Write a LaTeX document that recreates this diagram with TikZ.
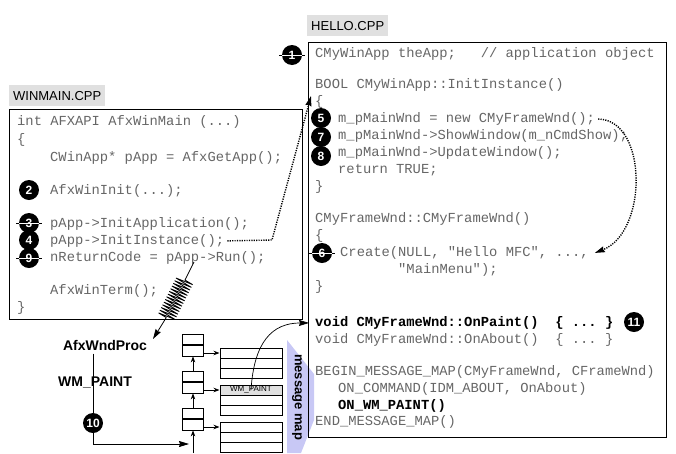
\documentclass[tikz,border=0pt]{standalone}
\usepackage{fontspec}
\setmainfont{Liberation Sans}
\setmonofont{Liberation Mono}
\usetikzlibrary{arrows.meta,decorations.pathmorphing,calc}
\definecolor{lblgray}{gray}{0.88}
\definecolor{mapblue}{RGB}{200,200,245}

\begin{document}
\begin{tikzpicture}[x=1pt, y=-1pt, >={Stealth[length=10pt,width=6pt,inset=1pt]},
    code/.style={anchor=base west, inner sep=0pt, text=black!60, font=\ttfamily\fontsize{13.8}{14}\selectfont},
    boldcode/.style={code, text=black, font=\ttfamily\bfseries\fontsize{13.8}{14}\selectfont},
    num/.style={circle, fill=black, text=white, inner sep=0pt, minimum size=20pt, font=\bfseries\fontsize{12}{12}\selectfont},
    struck/.style={path picture={\draw[white, line width=0.5pt] (path picture bounding box.west) -- (path picture bounding box.east);},
        append after command={(\tikzlastnode.west) edge[line width=0.8pt] +(-3,0) (\tikzlastnode.east) edge[line width=0.8pt] +(3,0)}},
    filelbl/.style={fill=lblgray, anchor=north west, inner sep=0pt, font=\fontsize{13}{13}\selectfont},
    codebox/.style={draw, line width=0.8pt, anchor=north west, inner sep=0pt},
    proc/.style={font=\bfseries\fontsize{14}{14}\selectfont},
    qbox/.style={draw, line width=0.8pt, minimum width=21pt, minimum height=22pt, inner sep=0pt},
    maprow/.style={draw, line width=1pt, minimum width=62pt, minimum height=10pt, inner sep=0pt},
    qarrow/.style={-{Stealth[length=6pt,width=4.5pt]}, line width=0.8pt},
    calls/.style={->, line width=1.4pt, dash pattern=on 1.2pt off 1.2pt},
]
\useasboundingbox (0,0) rectangle (676,453);

% WINMAIN.CPP
\node[filelbl, minimum width=96pt, minimum height=21pt] (winlbl) at (9,85) {WINMAIN.CPP};
\node[codebox, minimum width=293pt, minimum height=210pt] (winbox) at (9,109) {};
\node[code] (l1) at (17,125.5) {int AFXAPI AfxWinMain (...)};
\node[code] (l2) at (17,143.5) {\{};
\node[code] (l3) at (50,161.5) {CWinApp* pApp = AfxGetApp();};
\node[code] (l4) at (50,194.5) {AfxWinInit(...);};
\node[code] (l5) at (50,227.5) {pApp->InitApplication();};
\node[code] (l6) at (50,244.5) {pApp->InitInstance();};
\node[code] (l7) at (50,261.5) {nReturnCode = pApp->Run();};
\node[code] (l8) at (50,294.5) {AfxWinTerm();};
\node[code] (l9) at (17,311.5) {\}};
\node[num] (n2) at (29,190) {2};
\node[num, struck] (n3) at (29,223) {3};
\node[num] (n4) at (29,240) {4};
\node[num, struck] (n9) at (29,258) {9};

% message map band
\fill[mapblue] (287,340) -- (314,374) -- (314,420) -- (301,453) -- (287,453) -- cycle;
\node[rotate=-90, font=\bfseries\fontsize{13}{13}\selectfont] (maplbl) at (297,397) {message map};

% HELLO.CPP
\node[filelbl, minimum width=81pt, minimum height=21pt] (hellolbl) at (307,15) {HELLO.CPP};
\node[codebox, minimum width=358pt, minimum height=395pt] (hellobox) at (308,42) {};
\node[code] (r1) at (315,57.5) {CMyWinApp theApp;\ \ \ // application object};
\node[code] (r2) at (315,88.5) {BOOL CMyWinApp::InitInstance()};
\node[code] (r3) at (315,105.5) {\{};
\node[code] (r4) at (338,122.5) {m\_pMainWnd = new CMyFrameWnd();};
\node[code] (r5) at (338,139.5) {m\_pMainWnd->ShowWindow(m\_nCmdShow);};
\node[code] (r6) at (338,156.5) {m\_pMainWnd->UpdateWindow();};
\node[code] (r7) at (338,173.5) {return TRUE;};
\node[code] (r8) at (315,190.5) {\}};
\node[code] (r9) at (315,222.5) {CMyFrameWnd::CMyFrameWnd()};
\node[code] (r10) at (315,239.5) {\{};
\node[code] (r11) at (340,256.5) {Create(NULL, "Hello MFC", ...,};
\node[code] (r12) at (398,273.5) {"MainMenu");};
\node[code] (r13) at (315,290.5) {\}};
\node[boldcode] (r14) at (315,326.5) {void CMyFrameWnd::OnPaint()\ \ \{ ... \}};
\node[code] (r15) at (315,343.5) {void CMyFrameWnd::OnAbout()\ \ \{ ... \}};
\node[code] (r16) at (315,375.5) {BEGIN\_MESSAGE\_MAP(CMyFrameWnd, CFrameWnd)};
\node[code] (r17) at (338,392.5) {ON\_COMMAND(IDM\_ABOUT, OnAbout)};
\node[boldcode] (r18) at (338,409.5) {ON\_WM\_PAINT()};
\node[code] (r19) at (315,425.5) {END\_MESSAGE\_MAP()};
\node[num, struck] (n1) at (292,55) {1};
\node[num] (n5) at (321,118) {5};
\node[num] (n7) at (321,137) {7};
\node[num] (n8) at (321,156) {8};
\node[num, struck] (n6) at (322,253) {6};
\node[num] (n11) at (634,322) {11};

% calls
\coordinate (dk) at (272,240);
\coordinate (initin) at (311,96);
\draw[calls, shorten <=3pt] (l6.east) -- (dk) -- (initin);
\draw[calls, shorten <=3pt] (r4.east) .. controls (648,120) and (648,232) .. ([xshift=6pt]r11.east);

% AfxWndProc and the message queue
\node[proc] (wndproc) at (105,345) {AfxWndProc};
\node[proc] (wmpaint) at (95,383) {WM\_PAINT};
\coordinate (runpp) at (194,262);
\coordinate (coil1) at (185,280);
\coordinate (coil2) at (166,318);
\coordinate (procin) at (153,339);
\draw[->, line width=0.8pt] (runpp) -- (coil1) decorate[decoration={zigzag, amplitude=9pt, segment length=3pt}] {-- (coil2)} -- (procin);
\coordinate (bend) at (93,444);
\coordinate (qhit) at (189,444);
\draw[->, line width=0.8pt] (wndproc.south -| bend) -- (bend) -- (qhit);
\node[num] (n10) at (93,423) {10};

\node[qbox] (q1) at (193,345) {};
\node[qbox] (q2) at (193,382) {};
\node[qbox] (q3) at (193,419) {};
\draw[line width=1.4pt] (q1.west) -- (q1.east);
\draw[line width=1.4pt] (q2.west) -- (q2.east);
\draw[line width=1.4pt] (q3.west) -- (q3.east);
\coordinate (qin) at (193,453);
\draw[qarrow] (qin) -- (q3);
\draw[qarrow] (q3) -- (q2);
\draw[qarrow] (q2) -- (q1);

\node[maprow] (t1a) at (251,353) {};
\node[maprow] (t1b) at (251,363) {};
\node[maprow] (t1c) at (251,373) {};
\node[maprow, fill=black!12, font=\fontsize{8}{8}\selectfont] (t2a) at (251,390) {WM\_PAINT};
\node[maprow] (t2b) at (251,400) {};
\node[maprow] (t2c) at (251,410) {};
\node[maprow] (t3a) at (251,427) {};
\node[maprow] (t3b) at (251,437) {};
\node[maprow] (t3c) at (251,447) {};
\draw[qarrow] (q1.east |- t1a) -- (t1a.west);
\draw[qarrow] (q2.east |- t2a) -- (t2a.west);
\draw[qarrow] (q3.east |- t3a) -- (t3a.west);

\draw[->, line width=0.7pt, shorten >=6pt] (t2a.center) .. controls (254,342) and (272,323) .. (r14.west);
\end{tikzpicture}
\end{document}
